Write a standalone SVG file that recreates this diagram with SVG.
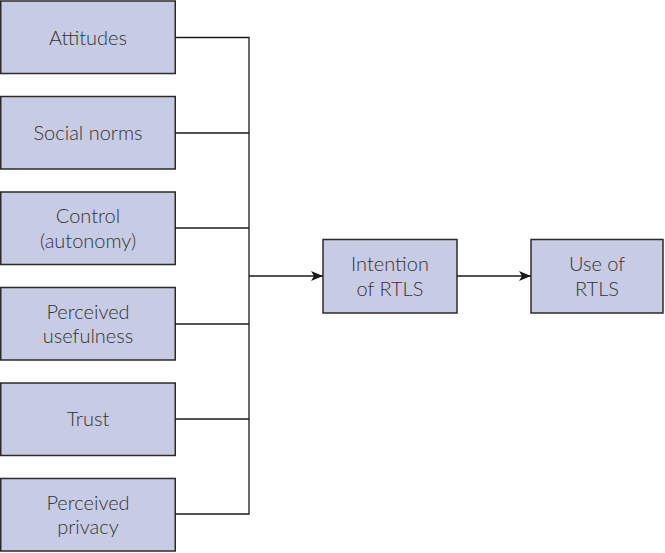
<svg xmlns="http://www.w3.org/2000/svg" width="665" height="553" viewBox="0 0 665 553">
<style>
.box{fill:#c8cbe4;stroke:#2b2b2b;stroke-width:1.5}
.t{font-family:Lato,"Open Sans","Liberation Sans",sans-serif;font-size:20px;font-weight:300;fill:#333;text-anchor:middle}
.c{fill:none;stroke:#1a1a1a;stroke-width:1.3}
</style>
<defs>
<marker id="ah" viewBox="0 0 12 10" refX="12" refY="5" markerWidth="12" markerHeight="10" markerUnits="userSpaceOnUse" orient="auto">
<path d="M0,0 L12,5 L0,10 L3,5 Z" fill="#1a1a1a"/>
</marker>
</defs>
<g id="attitudes"><rect class="box" x="0.75" y="1" width="174.5" height="72.5"/><text class="t" x="88" y="44.5">Attitudes</text></g>
<g id="social"><rect class="box" x="0.75" y="96.5" width="174.5" height="72.5"/><text class="t" x="88" y="139.5">Social norms</text></g>
<g id="control"><rect class="box" x="0.75" y="192" width="174.5" height="72.5"/><text class="t" x="88" y="223">Control</text><text class="t" x="88" y="248">(autonomy)</text></g>
<g id="usefulness"><rect class="box" x="0.75" y="287.5" width="174.5" height="72.5"/><text class="t" x="88" y="318.5">Perceived</text><text class="t" x="88" y="343">usefulness</text></g>
<g id="trust"><rect class="box" x="0.75" y="383" width="174.5" height="72.5"/><text class="t" x="88" y="425.5">Trust</text></g>
<g id="privacy"><rect class="box" x="0.75" y="478.5" width="174.5" height="72.5"/><text class="t" x="88" y="509.5">Perceived</text><text class="t" x="88" y="534">privacy</text></g>
<g id="intention"><rect class="box" x="323" y="239.5" width="134" height="73.5"/><text class="t" x="390" y="271">Intention</text><text class="t" x="390" y="296">of RTLS</text></g>
<g id="use"><rect class="box" x="531" y="239.5" width="132" height="73.5"/><text class="t" x="597" y="271">Use of</text><text class="t" x="597" y="296">RTLS</text></g>
<g id="connectors">
<path class="c" d="M175,37.5 H249 V514 H175"/>
<path class="c" d="M175,133 H249 M175,228 H249 M175,324 H249 M175,419 H249"/>
<path class="c" d="M249,276 H323" marker-end="url(#ah)"/>
<path class="c" d="M457,276 H531" marker-end="url(#ah)"/>
</g>
</svg>
